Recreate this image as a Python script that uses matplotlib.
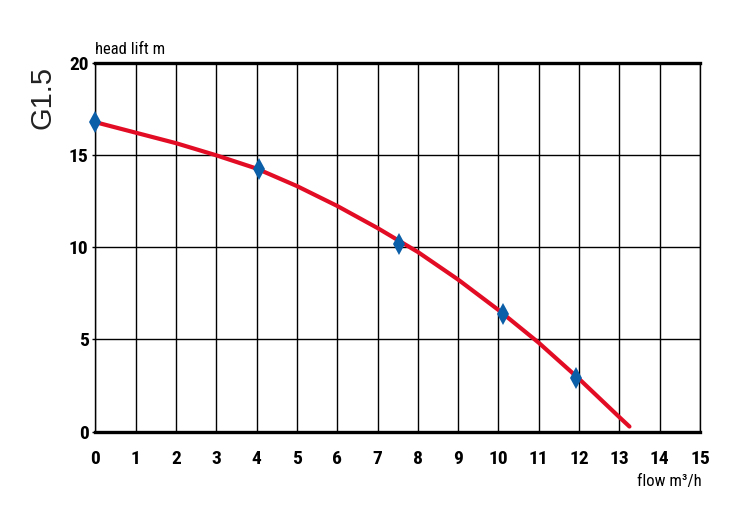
import matplotlib
matplotlib.use("Agg")
import matplotlib.pyplot as plt

# data
curve_flow = [0, 1, 2, 3, 4, 5, 6, 7, 8, 9, 10, 11, 12, 13, 13.25]
curve_head = [16.8, 16.23, 15.66, 15.0, 14.28, 13.33, 12.25, 11.05, 9.75, 8.25, 6.6, 4.82, 2.86, 0.78, 0.27]
point_flow = [0, 4.05, 7.53, 10.1, 11.93]
point_head = [16.8, 14.27, 10.16, 6.36, 2.92]
x_ticks = list(range(0, 16))
y_ticks = [0, 5, 10, 15, 20]
title_text = "G1.5"
y_label = "head lift m"
x_label = "flow m³/h"

fam = ["Roboto Condensed", "Liberation Sans Narrow", "Liberation Sans", "DejaVu Sans"]

fig = plt.figure(figsize=(7.5, 5.3), dpi=100)
ax = fig.add_axes([0.1273, 0.1858, 0.8060, 0.6948])

ax.set_xlim(0, 15)
ax.set_ylim(0, 20)
ax.set_xticks(x_ticks)
ax.set_yticks(y_ticks)
ax.grid(True, color="black", linewidth=1.0)
ax.set_axisbelow(True)

for s in ["top", "bottom"]:
    ax.spines[s].set_linewidth(2.4)
    ax.spines[s].set_color("black")
    ax.spines[s].set_capstyle("projecting")
ax.spines["left"].set_linewidth(1.0)
ax.spines["right"].set_linewidth(1.0)

ax.plot(curve_flow, curve_head, color="#e30c25", linewidth=3.0, solid_capstyle="round",
        solid_joinstyle="round", zorder=3)
ax.plot(point_flow, point_head, linestyle="none", marker="d", markersize=11,
        color="#0b5ea8", markeredgewidth=0, zorder=4, clip_on=False)

ax.tick_params(axis="x", length=0, pad=13)
ax.tick_params(axis="y", length=2, width=1, pad=3)
for lab in ax.get_xticklabels() + ax.get_yticklabels():
    lab.set_fontfamily(fam)
    lab.set_fontweight("bold")
    lab.set_fontsize(14)

fig.text(0.127, 0.893, y_label, family=fam, fontsize=12, ha="left", va="bottom")
fig.text(0.936, 0.077, x_label, family=fam, fontsize=12, ha="right", va="bottom")
fig.text(0.057, 0.816, title_text, family=["Liberation Sans", "DejaVu Sans"], fontsize=21,
         rotation=90, ha="center", va="center", color="#222222")

fig.savefig("out.png", dpi=100)
